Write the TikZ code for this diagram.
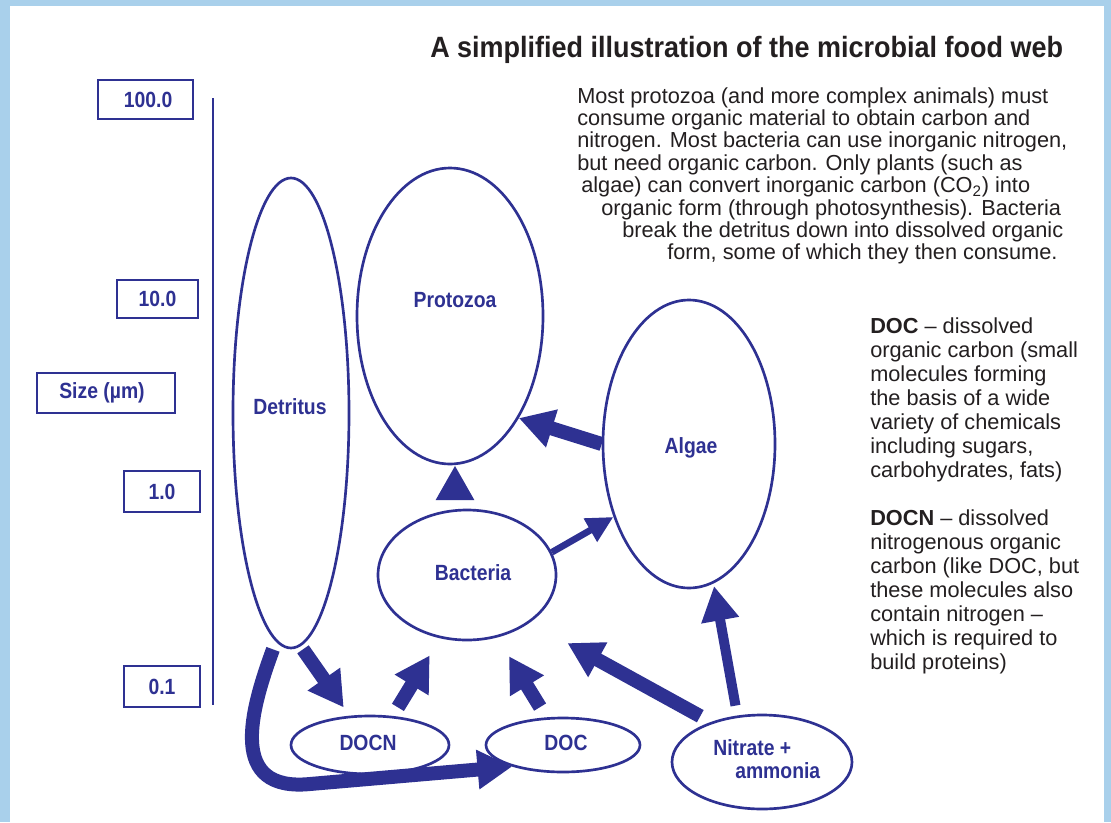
\documentclass[tikz,border=0pt]{standalone}
\usepackage{fontspec}
\setmainfont{Liberation Sans}
\newfontfamily\titlefont{Liberation Sans}[FakeStretch=0.92]
\newfontfamily\labelfont{Liberation Sans}[FakeStretch=0.88]
\usetikzlibrary{shapes.geometric,arrows.meta,calc}
\definecolor{navy}{RGB}{46,49,146}
\definecolor{frameblue}{RGB}{169,208,235}
\definecolor{ink}{RGB}{35,31,32}
\tikzset{
  ell/.style={draw=navy, line width=2pt, ellipse, inner sep=0pt},
  lab/.style={font=\labelfont\fontsize{16.5}{19}\selectfont\bfseries, text=navy, inner sep=0pt},
  sizebox/.style={draw=navy, line width=2.2pt, rectangle, inner sep=0pt,
     font=\labelfont\fontsize{16.5}{19}\selectfont\bfseries, text=navy},
  body/.style={font=\fontsize{16.3}{18}\selectfont, text=ink, inner sep=0pt, anchor=base west},
  fat/.style={draw=navy, line width=10.5pt, -{Triangle[length=26pt,width=28pt]}},
  medarrow/.style={draw=navy, line width=7.5pt, -{Triangle[length=26pt,width=27pt]}},
  thinarrow/.style={draw=navy, line width=5pt, -{Triangle[length=20pt,width=19pt]}},
}
\begin{document}
\begin{tikzpicture}[x=0.75pt,y=-0.75pt]
\useasboundingbox (0,0) rectangle (1111,822);
% frame
\fill[white] (0,0) rectangle (1111,822);
\fill[frameblue] (0,0) rectangle (10,822);
\fill[frameblue] (0,0) rectangle (1111,6);
\fill[frameblue] (1104,0) rectangle (1111,822);

% title
\node[anchor=base west, inner sep=0pt, text=ink, font=\titlefont\fontsize{22}{25}\selectfont\bfseries] (title) at (430,57)
  {A simplified illustration of the microbial food web};

% paragraph 1
\node[body] (p1) at (577,103) {Most protozoa (and more complex animals) must};
\node[body] (p2) at (577,125.4) {consume organic material to obtain carbon and};
\node[body] (p3) at (577,147.8) {nitrogen. Most bacteria can use inorganic nitrogen,};
\node[body] (p4) at (577,170.2) {but need organic carbon. Only plants (such as};
\node[body] (p5) at (581,192.6) {algae) can convert inorganic carbon (CO\textsubscript{2}) into};
\node[body] (p6) at (601,215) {organic form (through photosynthesis). Bacteria};
\node[body] (p7) at (622,237.4) {break the detritus down into dissolved organic};
\node[body] (p8) at (667,259.8) {form, some of which they then consume.};

% paragraph 2
\node[body] (q1) at (870,333) {\textbf{DOC} – dissolved};
\node[body] (q2) at (870,357) {organic carbon (small};
\node[body] (q3) at (870,381) {molecules forming};
\node[body] (q4) at (870,405) {the basis of a wide};
\node[body] (q5) at (870,429) {variety of chemicals};
\node[body] (q6) at (870,453) {including sugars,};
\node[body] (q7) at (870,477) {carbohydrates, fats)};

\node[body] (r1) at (870,525) {\textbf{DOCN} – dissolved};
\node[body] (r2) at (870,549) {nitrogenous organic};
\node[body] (r3) at (870,573) {carbon (like DOC, but};
\node[body] (r4) at (870,597) {these molecules also};
\node[body] (r5) at (870,621) {contain nitrogen –};
\node[body] (r6) at (870,645) {which is required to};
\node[body] (r7) at (870,669) {build proteins)};

% size scale
\draw[navy, line width=2.2pt] (213,98) coordinate (axtop) -- (213,705) coordinate (axbot);
\node[sizebox, minimum width=71.25pt, minimum height=29.25pt] (b100) at (145.5,99.5) {\hspace*{4pt}100.0};
\node[sizebox, minimum width=60.75pt, minimum height=28.5pt] (b10) at (157.5,299) {10.0};
\node[sizebox, minimum width=103.5pt, minimum height=30pt] (bsize) at (106,393) {Size (µm)\hspace*{6pt}};
\node[sizebox, minimum width=57pt, minimum height=30.75pt] (b1) at (162,491.5) {1.0};
\node[sizebox, minimum width=57pt, minimum height=30.75pt] (b01) at (162,686.5) {0.1};

% ellipses
\node[ell, minimum width=87pt, minimum height=352.5pt] (det) at (291,413) {};
\node[ell, minimum width=139.5pt, minimum height=222pt] (proto) at (450,316) {};
\node[ell, minimum width=129pt, minimum height=216pt] (algae) at (689,444) {};
\node[ell, minimum width=133.5pt, minimum height=97.5pt] (bact) at (467,575) {};
\node[ell, minimum width=118.5pt, minimum height=43.5pt] (docn) at (370,745) {};
\node[ell, minimum width=115.5pt, minimum height=40.5pt] (doc) at (563,745) {};
\node[ell, minimum width=135pt, minimum height=70.5pt] (nit) at (762,762) {};

% labels
\node[lab] (ldet) at (290,407) {Detritus};
\node[lab] (lproto) at (455,300) {Protozoa};
\node[lab] (lalgae) at (691,448) {Algae};
\node[lab] (lbact) at (473,573) {Bacteria};
\node[lab] (ldocn) at (368,743) {DOCN};
\node[lab] (ldoc) at (566,743) {DOC};
\node[lab, anchor=base west] (lnit1) at (713,755) {Nitrate +};
\node[lab, anchor=base west] (lnit2) at (735,778) {ammonia};

% arrows
\draw[medarrow, shorten <=6.75pt] ($(bact.north -| proto.south)+(5,0)$) -- ($(proto.south)+(5,0)$);
\draw[fat] (algae.west) -- (proto.-56);
\draw[thinarrow] (bact.15) -- (algae.224);
\draw[fat, shorten >=7.5pt] ($(det.south)+(12,0)$) -- (docn.125);
\draw[fat, shorten <=7.5pt, shorten >=15pt] (docn.52) -- (bact.-113);
\draw[fat, shorten <=9pt, shorten >=16.5pt] (doc.121) -- (bact.-64);
\draw[fat, shorten <=9pt, shorten >=32pt] (nit.142) -- (bact.-37);
\draw[medarrow, shorten <=7.5pt, shorten >=2pt] (nit.118) -- (algae.-80);
\draw[fat] ($(det.south)+(-18,0)$) .. controls (250,712) and (228,792) .. (310,784) -- (doc.203);
\end{tikzpicture}
\end{document}
